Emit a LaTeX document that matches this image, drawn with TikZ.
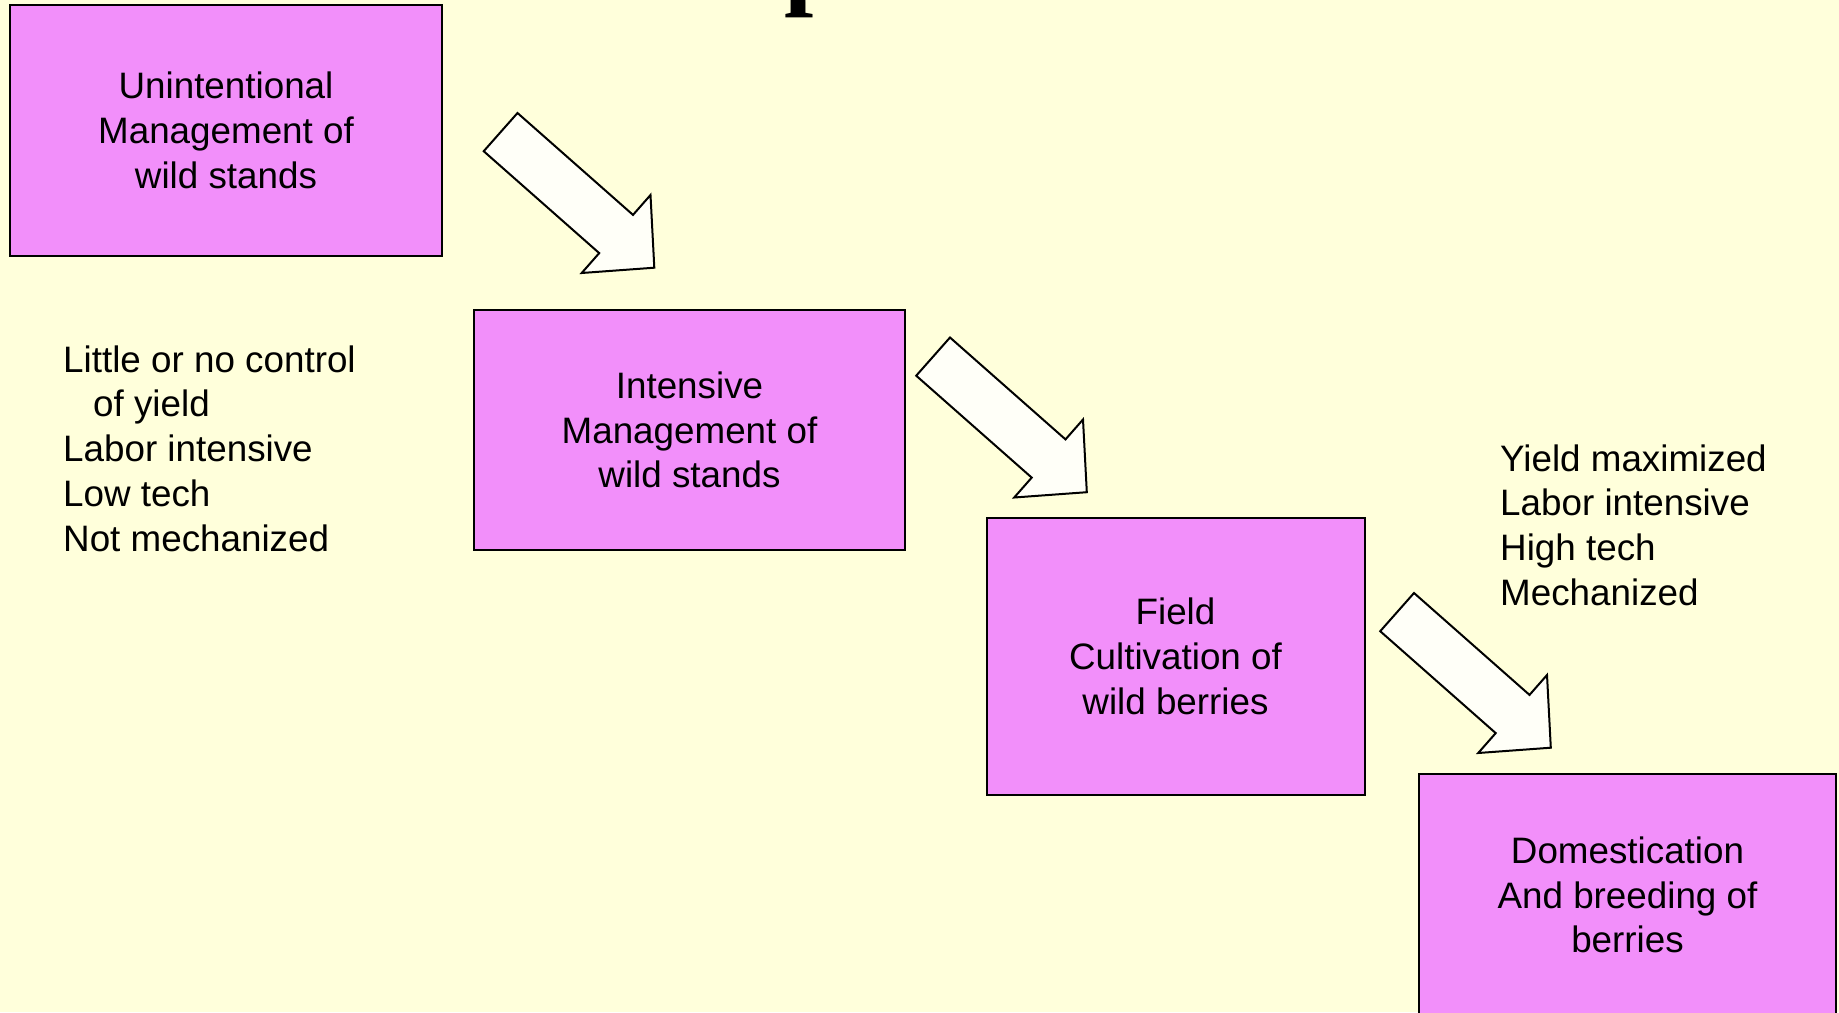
\documentclass[tikz,border=0pt]{standalone}
\usepackage{fontspec}
\setmainfont{Liberation Sans}
\newfontfamily\titlefont{Liberation Serif}
\usepackage{tikz}

\definecolor{slidebg}{RGB}{255,255,219}
\definecolor{stagepink}{RGB}{242,143,250}
\definecolor{arrowwhite}{RGB}{255,255,248}

\begin{document}
\begin{tikzpicture}[x=1pt,y=-1pt]

        \useasboundingbox (0,0) rectangle (1839,1012);
        \fill[slidebg] (0,0) rectangle (1839,1012);
        \clip (0,0) rectangle (1839,1012);

        % title, cut off at the top
        \node[anchor=base west,inner sep=0,
            font=\titlefont\bfseries\fontsize{105}{105}\selectfont] (title) at (784,-5) {p};

        \begin{scope}[every node/.style={rectangle,draw,line width=2pt,fill=stagepink,
            align=center,inner sep=0,font=\fontsize{36.8}{44.7}\selectfont}]
            \node[minimum width=432,minimum height=251] (S1) at (226,130.5) {Unintentional\\Management of\\wild stands};
            \node[minimum width=431,minimum height=240] (S2) at (689.5,430) {Intensive\\Management of\\wild stands};
            \node[minimum width=378,minimum height=277] (S3) at (1175.5,656.5) {Field\\Cultivation of\\wild berries};
            \node[minimum width=417,minimum height=242] (S4) at (1627.5,895) {Domestication\\And breeding of\\berries};
        \end{scope}

        \begin{scope}[every node/.style={align=left,anchor=north west,inner sep=0,
            font=\fontsize{36.8}{44.7}\selectfont}]
            \node (low) at (63,345.4) {Little or no control\\\hspace*{30pt}of yield\\Labor intensive\\Low tech\\Not mechanized};
            \node (high) at (1500,444.4) {Yield maximized\\Labor intensive\\High tech\\Mechanized};
        \end{scope}

        \coordinate (tip1) at (654.3,267.7);
        \coordinate (tip2) at (1086.8,492.2);
        \coordinate (tip3) at (1550.8,747.7);

        \begin{scope}[blockarrow/.style={draw,line width=2pt,fill=arrowwhite,line join=miter}]
            \foreach \t in {tip1,tip2,tip3}
                \draw[blockarrow,shift={(\t)}] (-136.8,-154.7) -- (-21.3,-52.8) -- (-3.8,-72.7)
                    -- (0,0) -- (-72.6,5.3) -- (-55.1,-14.6) -- (-170.6,-116.5) -- cycle;
        \end{scope}
    \end{tikzpicture}
\end{document}
